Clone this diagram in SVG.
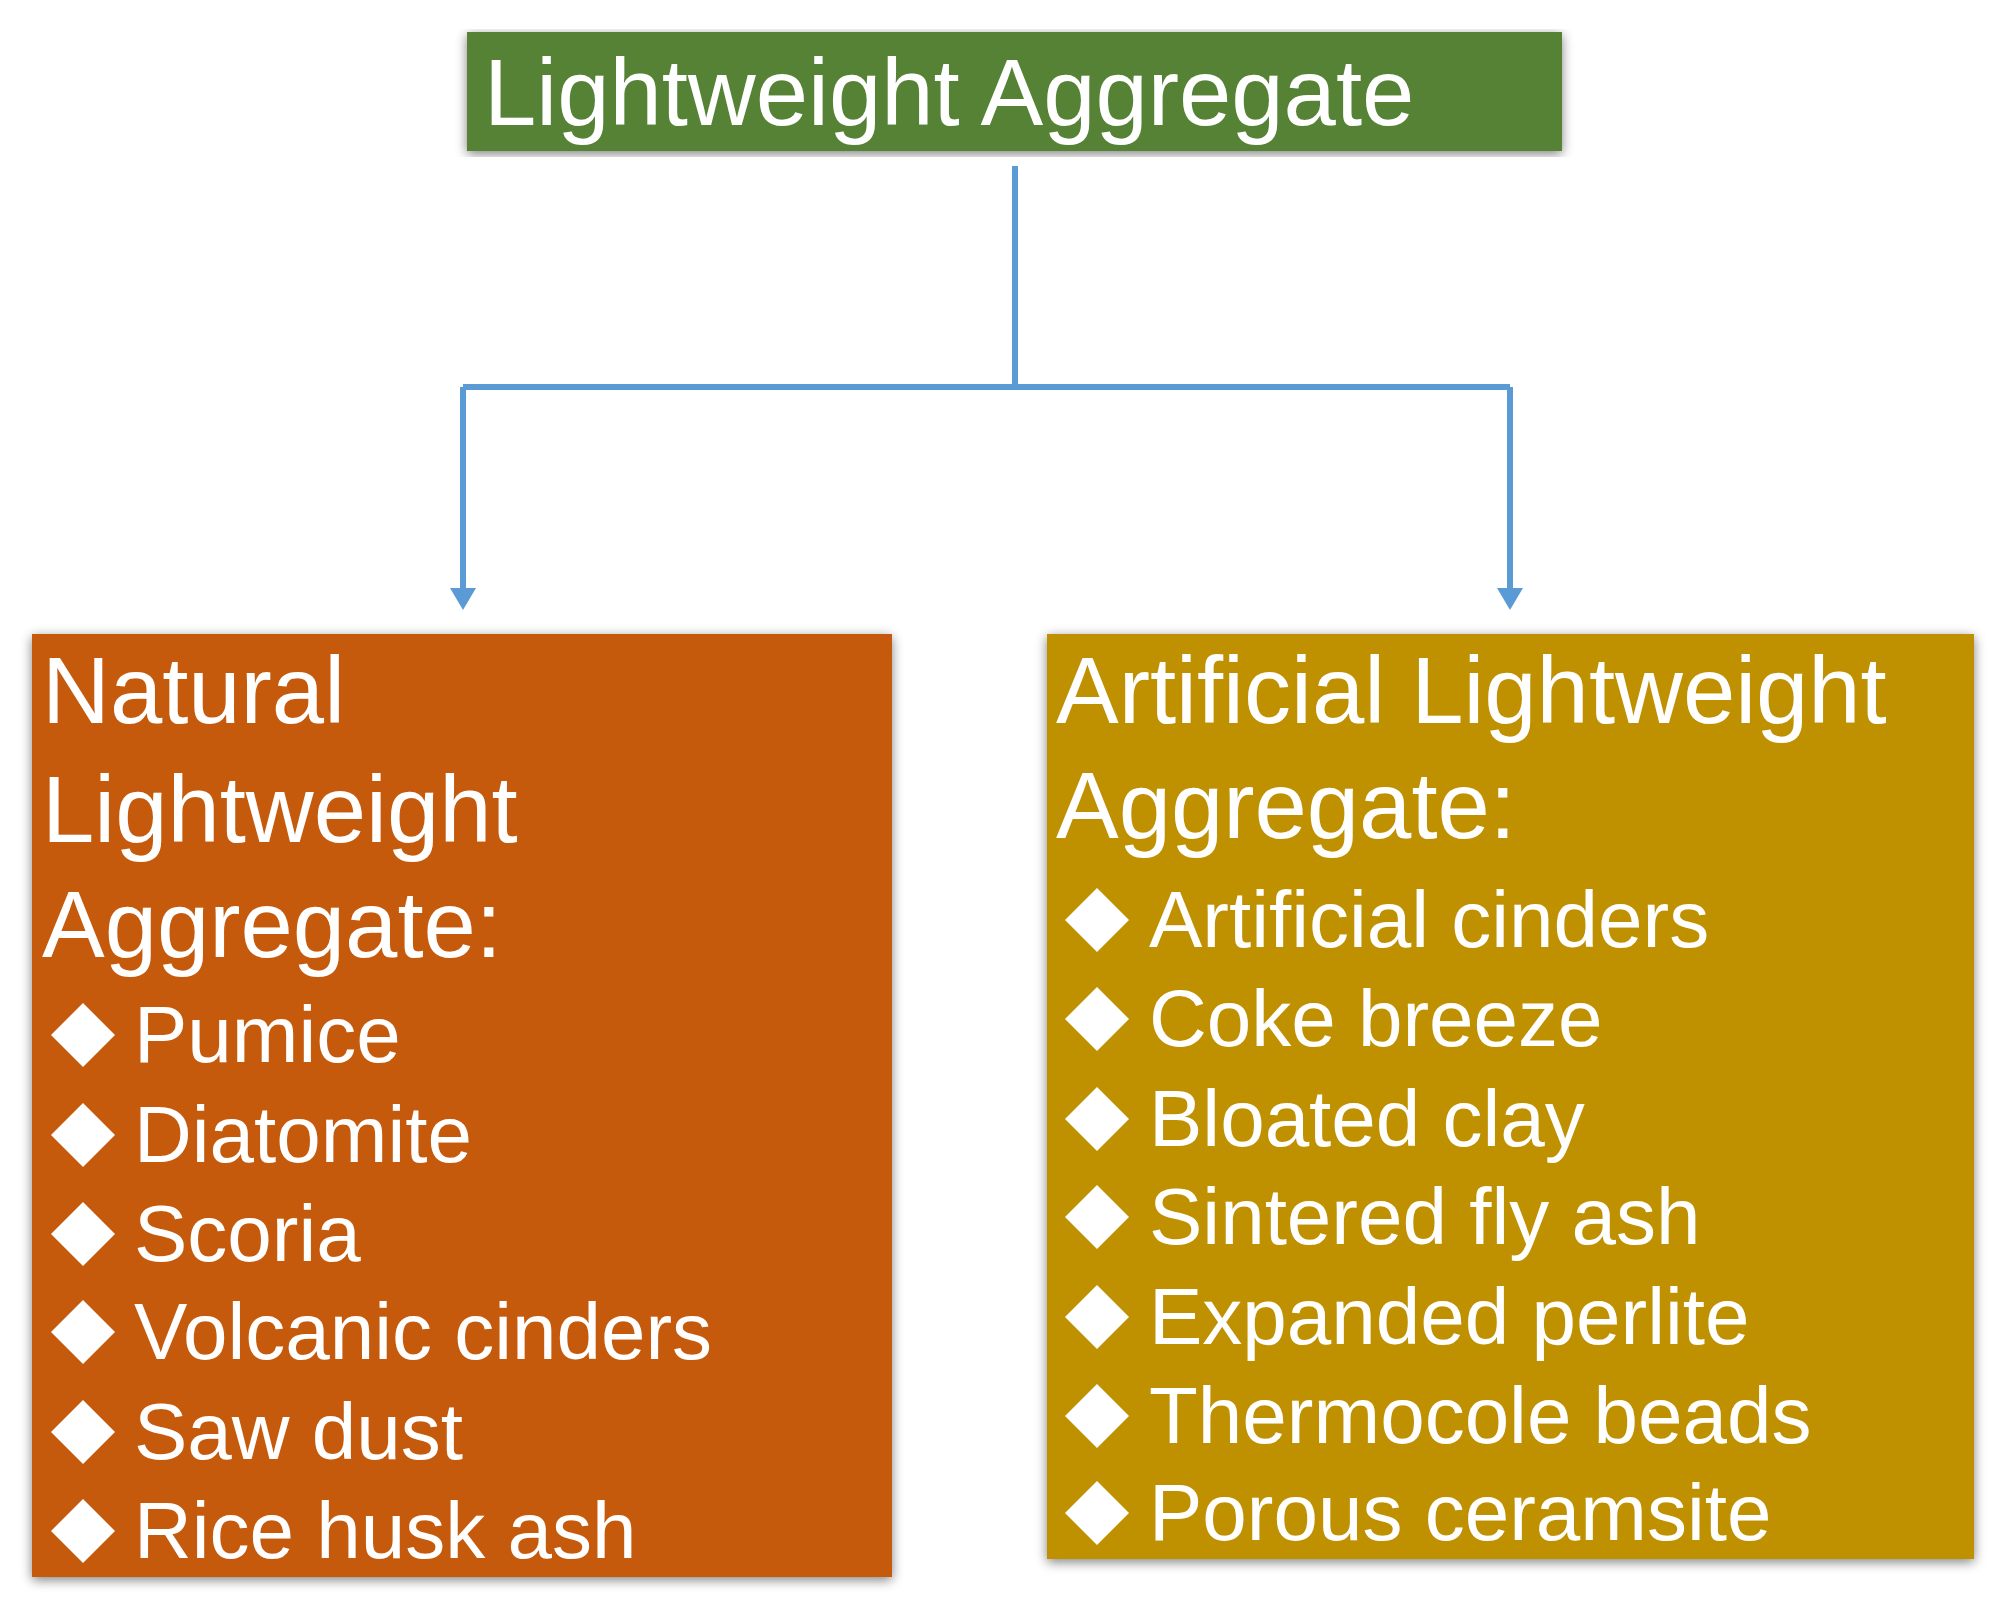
<svg xmlns="http://www.w3.org/2000/svg" xmlns:xlink="http://www.w3.org/1999/xlink" width="2007" height="1616" viewBox="0 0 2007 1616">
<style>
text{font-family:"Liberation Sans",Arial,sans-serif;fill:#fff}
.h{font-size:94px}
.b{font-size:80px}
.c{stroke:#5B9BD5;stroke-width:6;fill:none}
</style>
<defs>
<filter id="sh" x="-5%" y="-5%" width="110%" height="110%"><feGaussianBlur in="SourceAlpha" stdDeviation="6"/><feOffset dy="3"/><feComponentTransfer><feFuncA type="linear" slope="0.5"/></feComponentTransfer><feMerge><feMergeNode/><feMergeNode in="SourceGraphic"/></feMerge></filter>
<marker id="ar" markerWidth="10" markerHeight="10" refX="5" refY="8" orient="auto" markerUnits="userSpaceOnUse" viewBox="0 0 10 10"><path d="M0,0 L10,0 L5,10 Z" fill="#5B9BD5"/></marker>
<polygon id="d" points="32,0 64,-32 32,-64 0,-32" fill="#fff"/>
</defs>
<rect width="2007" height="1616" fill="#fff"/>
<g id="connectors">
<path class="c" d="M1015,166 V387"/>
<path class="c" d="M463,387 H1510"/>
<path d="M463,387 V590" class="c"/><path d="M450,588 L476,588 L463,610 Z" fill="#5B9BD5"/>
<path d="M1510,387 V590" class="c"/><path d="M1497,588 L1523,588 L1510,610 Z" fill="#5B9BD5"/>
</g>
<g id="top">
<rect x="467" y="32" width="1095" height="119" fill="#548235" filter="url(#sh)"/>
<text class="h" x="484" y="125">Lightweight Aggregate</text>
</g>
<g id="natural">
<rect x="32" y="634" width="860" height="943" fill="#C55A11" filter="url(#sh)"/>
<text class="h" x="42" y="723">Natural</text>
<text class="h" x="42" y="842">Lightweight</text>
<text class="h" x="42" y="957">Aggregate:</text>
<use xlink:href="#d" x="51" y="1067"/><text class="b" x="134" y="1062">Pumice</text>
<use xlink:href="#d" x="51" y="1167"/><text class="b" x="134" y="1162">Diatomite</text>
<use xlink:href="#d" x="51" y="1266"/><text class="b" x="134" y="1261">Scoria</text>
<use xlink:href="#d" x="51" y="1364"/><text class="b" x="134" y="1359">Volcanic cinders</text>
<use xlink:href="#d" x="51" y="1464"/><text class="b" x="134" y="1459">Saw dust</text>
<use xlink:href="#d" x="51" y="1563"/><text class="b" x="134" y="1558">Rice husk ash</text>
</g>
<g id="artificial">
<rect x="1047" y="634" width="927" height="925" fill="#BF9000" filter="url(#sh)"/>
<text class="h" x="1056" y="723">Artificial Lightweight</text>
<text class="h" x="1056" y="838">Aggregate:</text>
<use xlink:href="#d" x="1065" y="952"/><text class="b" x="1149" y="947">Artificial cinders</text>
<use xlink:href="#d" x="1065" y="1051"/><text class="b" x="1149" y="1046">Coke breeze</text>
<use xlink:href="#d" x="1065" y="1151"/><text class="b" x="1149" y="1146">Bloated clay</text>
<use xlink:href="#d" x="1065" y="1249"/><text class="b" x="1149" y="1244">Sintered fly ash</text>
<use xlink:href="#d" x="1065" y="1349"/><text class="b" x="1149" y="1344">Expanded perlite</text>
<use xlink:href="#d" x="1065" y="1448"/><text class="b" x="1149" y="1443">Thermocole beads</text>
<use xlink:href="#d" x="1065" y="1545"/><text class="b" x="1149" y="1540">Porous ceramsite</text>
</g>
</svg>
